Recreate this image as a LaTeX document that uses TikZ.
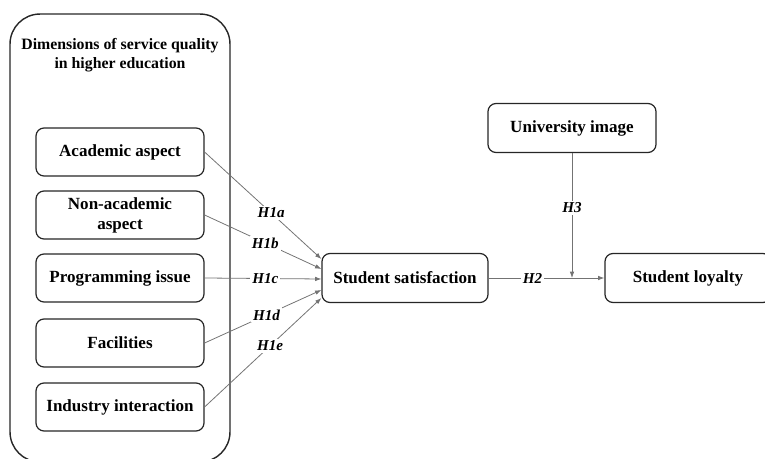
\documentclass[tikz,border=0pt]{standalone}
\usepackage{fontspec}
\setmainfont{Liberation Serif}
\usetikzlibrary{calc,arrows.meta}

\begin{document}
\begin{tikzpicture}[x=0.02cm,y=-0.02cm,
    group/.style={draw=black!85,line width=0.8pt,rounded corners=0.6cm,minimum width=4.4cm,minimum height=8.96cm},
    grouptitle/.style={align=center,font={\bfseries\fontsize{9}{10.8}\selectfont}},
    factor/.style={draw=black!85,line width=0.7pt,rounded corners=0.16cm,fill=white,align=center,minimum width=3.36cm,minimum height=0.96cm,inner sep=1pt,font={\bfseries\fontsize{9.7}{11.4}\selectfont}},
    link/.style={draw=black!55,line width=0.45pt,-{Latex[length=3.6pt,width=2.6pt]}},
    hyp/.style={fill=white,inner sep=1.2pt,text=black,font={\bfseries\itshape\fontsize{8.6}{10}\selectfont}}]
    \useasboundingbox (0,0) rectangle (765,459);

    \node[group] (dim) at (120,238) {};
    \node[grouptitle] (dimtitle) at (120,55) {Dimensions of service quality\\in higher education};

    \node[factor] (aca) at (120,152) {Academic aspect};
    \node[factor] (nonaca) at (120,215) {Non-academic\\aspect};
    \node[factor] (prog) at (120,278) {Programming issue};
    \node[factor] (fac) at (120,343) {Facilities};
    \node[factor] (ind) at (120,407) {Industry interaction};

    \node[factor,minimum width=3.32cm,minimum height=0.98cm] (sat) at (405,278) {Student satisfaction};
    \node[factor,minimum width=3.32cm,minimum height=0.98cm] (loy) at (688,278) {Student loyalty};
    \node[factor,minimum height=0.98cm] (uni) at (572,128) {University image};

    \coordinate (s1) at ($ (sat.west) + (0,-19) $);
    \coordinate (s2) at ($ (sat.west) + (0,-9) $);
    \coordinate (s3) at ($ (sat.west) + (0,1) $);
    \coordinate (s4) at ($ (sat.west) + (0,12) $);
    \coordinate (s5) at ($ (sat.west) + (0,20) $);
    \coordinate (jn) at (uni.south |- sat.east);

    \draw[link] (aca.east) -- node[hyp,pos=0.57] {H1a} (s1);
    \draw[link] (nonaca.east) -- node[hyp,pos=0.52] {H1b} (s2);
    \draw[link] (prog.east) -- node[hyp,pos=0.52] {H1c} (s3);
    \draw[link] (fac.east) -- node[hyp,pos=0.53] {H1d} (s4);
    \draw[link] (ind.east) -- node[hyp,pos=0.56] {H1e} (s5);

    \draw[link] (sat.east) -- node[hyp,pos=0.38] {H2} (loy.west);
    \draw[link] (uni.south) -- node[hyp,pos=0.44] {H3} (jn);
\end{tikzpicture}
\end{document}
